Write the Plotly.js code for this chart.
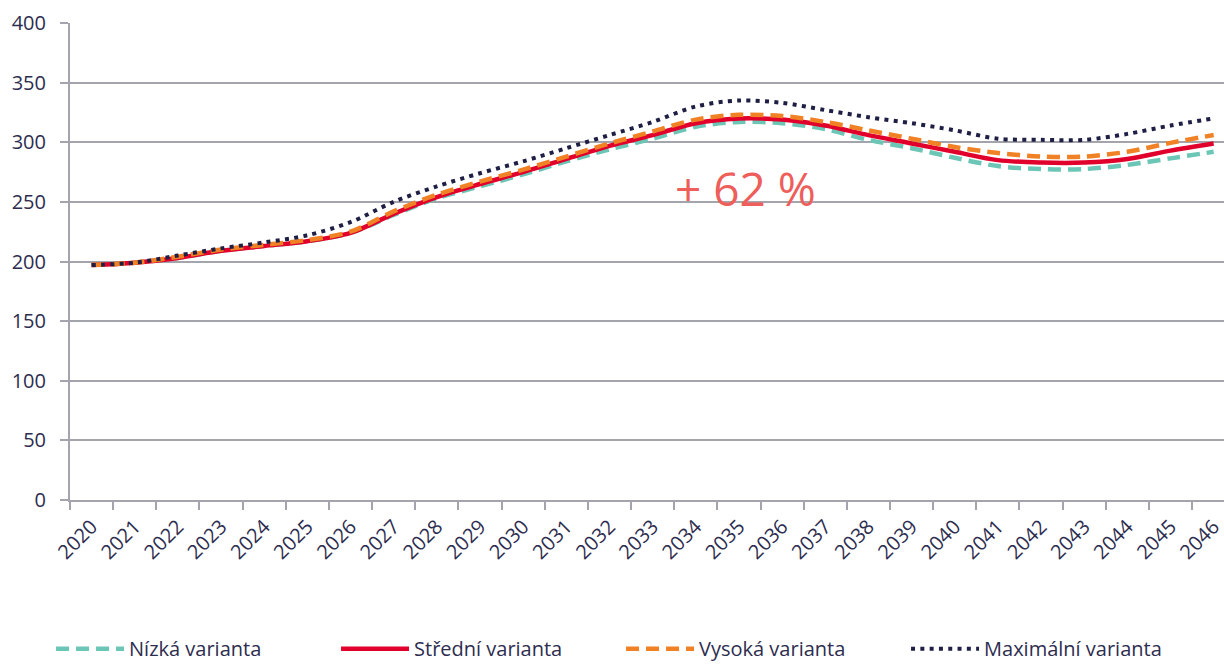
<!DOCTYPE html>
<html>
<head>
<meta charset="utf-8">
<script src="https://cdn.plot.ly/plotly-3.0.1.min.js"></script>
<style>html,body{margin:0;padding:0;background:#fff;}#chart{width:1224px;height:666px;}</style>
</head>
<body>
<div id="chart"></div>
<script>
var years = ["2020","2021","2022","2023","2024","2025","2026","2027","2028","2029","2030","2031","2032","2033","2034","2035","2036","2037","2038","2039","2040","2041","2042","2043","2044","2045","2046"];
var nizka =      [197,199,203,209,213,217,224,239,253,263,273,284,294,303,313,317,316,311,302,295,287,280,277.5,277.5,281,286.5,292];
var stredni =    [197,199,203,209,213,217,224,240,254,265,275,286,297,306,316,320,319,314,306,299,292,285,283,283,286,293,299];
var vysoka =     [197,199,204,210,214,218,225,242,256,267,277,288,299,309,319,323,322,317,310,303,296,291,288,288,292,299.5,306];
var maximalni =  [197,199,205,211,216,222,233,250,263,274,284,295,306,317,330,335,333,327,321,316,310,303,302,302,307,314,320];
var seriesNames = ["Nízká varianta","Střední varianta","Vysoká varianta","Maximální varianta"];
var annotationText = "+ 62 %";

var textColor = "#2d2d4f";
var gridColor = "#a4a4ac";
var font = "Open Sans, sans-serif";

var traces = [
  {x: years, y: nizka, name: seriesNames[0], mode: "lines",
   line: {color: "#6cc6b6", width: 4.5, dash: "13px,7px", shape: "spline", smoothing: 0.9}},
  {x: years, y: stredni, name: seriesNames[1], mode: "lines",
   line: {color: "#e0002b", width: 4.5, shape: "spline", smoothing: 0.9}},
  {x: years, y: vysoka, name: seriesNames[2], mode: "lines",
   line: {color: "#f08124", width: 4.5, dash: "13px,7px", shape: "spline", smoothing: 0.9}},
  {x: years, y: maximalni, name: seriesNames[3], mode: "lines",
   line: {color: "#1f1f45", width: 4, dash: "4px,5.3px", shape: "spline", smoothing: 0.9}}
];

var layout = {
  width: 1224, height: 666,
  margin: {l: 70, r: 0, t: 23, b: 166},
  paper_bgcolor: "#ffffff", plot_bgcolor: "#ffffff",
  font: {family: font, color: textColor, size: 20},
  showlegend: true,
  legend: {
    orientation: "h", xref: "container", x: 0.0417, xanchor: "left",
    yref: "container", y: 0.026, yanchor: "middle",
    font: {family: font, size: 20, color: textColor},
    itemwidth: 68, entrywidth: 202, entrywidthmode: "pixels", traceorder: "normal",
    bgcolor: "rgba(0,0,0,0)"
  },
  xaxis: {
    type: "category", range: [-0.5, 26.24],
    showgrid: false, showline: true, linecolor: gridColor, linewidth: 2,
    ticks: "outside", tickson: "boundaries", ticklen: 8, tickwidth: 2, tickcolor: gridColor,
    tickangle: -45, tickfont: {family: font, size: 20, color: textColor},
    ticklabelstandoff: 5, zeroline: false, fixedrange: true
  },
  yaxis: {
    range: [0, 400], dtick: 50, tick0: 0,
    showgrid: true, gridcolor: gridColor, gridwidth: 2,
    showline: true, linecolor: gridColor, linewidth: 2,
    ticks: "outside", ticklen: 8, tickwidth: 2, tickcolor: gridColor,
    tickfont: {family: font, size: 20, color: textColor},
    ticklabelstandoff: 10, zeroline: false, fixedrange: true
  },
  annotations: [{
    text: annotationText, xref: "paper", yref: "y", x: 0.585, y: 262,
    showarrow: false, font: {family: font, size: 46, color: "#ee5e5a"}
  }]
};

Plotly.newPlot("chart", traces, layout, {displayModeBar: false, staticPlot: true});
</script>
</body>
</html>
